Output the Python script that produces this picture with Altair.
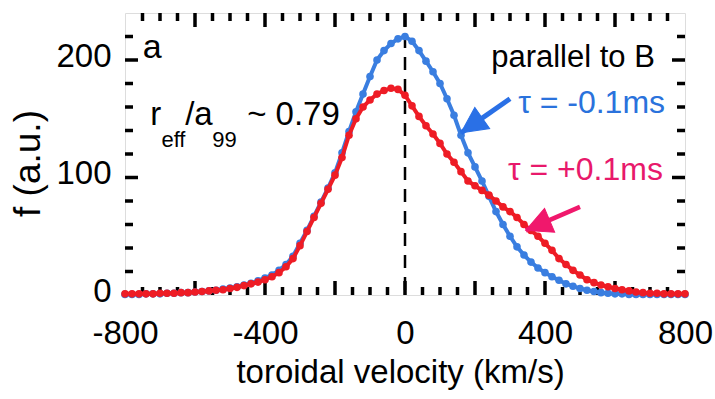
import altair as alt
import pandas as pd

# ---------------- data ----------------
velocity = list(range(-800, 801, 20))

f_minus = [0.5, 0.5, 0.5, 1, 1, 1, 1.5, 1.5, 2, 2,
           2.5, 3, 3.5, 4, 5, 6, 7, 8.5, 10, 12,
           14.5, 17, 21, 26, 33, 44, 55, 67, 79, 91,
           104, 121, 139, 156, 171, 186, 200, 208, 214, 218,
           220, 216, 208, 199, 190, 180, 167, 153, 136, 121,
           109, 97, 84, 71, 60, 50, 41, 34, 28, 23,
           19, 15.5, 12.5, 9.5, 7.5, 5.5, 4, 3, 2, 1.5,
           1, 1, 0.5, 0.5, 0.5, 0.5, 0.5, 0.5, 0.5, 0.5, 0.5]

f_plus = [1, 1, 1, 1, 1, 1.5, 1.5, 1.5, 2, 2,
          2.5, 3, 3.5, 4, 4.5, 5.5, 6.5, 8, 9.5, 11,
          13, 15.5, 19, 24, 31, 42, 54, 66, 78, 90,
          102, 117, 136, 150, 160, 166, 171, 174, 176, 175,
          170, 161, 152, 144, 137, 129, 120, 113, 105, 97,
          93, 89, 85, 80, 75, 71, 66, 60, 55, 50,
          44, 38, 31, 26, 21, 17, 13, 10.5, 8.5, 7,
          5.5, 4.5, 3.5, 2.5, 2, 1.5, 1.5, 1, 1, 1, 1]

assert len(velocity) == len(f_minus) == len(f_plus)

x_labels = [-800, -400, 0, 400, 800]
y_labels = [0, 100, 200]
x_major_ticks = [-600, -400, -200, 0, 200, 400, 600]
x_minor_ticks = [v for v in range(-750, 800, 50) if v % 200 != 0]
y_major_ticks = [100, 200]
y_minor_ticks = [20, 40, 60, 80, 120, 140, 160, 180, 220]

# ---------------- style ----------------
W, H = 560, 282
FONT = "Liberation Sans, Arial, sans-serif"
BLUE = "#3a7ee0"
RED = "#ee1c25"
PINK = "#e8196b"
BLUE_TXT = "#2a72dc"

xs = alt.Scale(domain=[-800, 800], nice=False, zero=False)
ys = alt.Scale(domain=[0, 240], nice=False, zero=False)

df = pd.DataFrame({"v": velocity + velocity,
                   "f": f_minus + f_plus,
                   "s": ["minus"] * len(velocity) + ["plus"] * len(velocity)})

xenc = alt.X("v:Q", scale=xs,
             axis=alt.Axis(values=x_labels, ticks=False, domain=False, grid=False,
                           labelExpr="'' + datum.value",
                           labelFontSize=33, labelFont=FONT, labelPadding=22,
                           labelColor="black", labelFlush=False,
                           title="toroidal velocity (km/s)", titleFont=FONT,
                           titleFontSize=33, titleFontWeight="normal",
                           titleColor="black", titlePadding=6, titleX=275))
yenc = alt.Y("f:Q", scale=ys,
             axis=alt.Axis(values=y_labels, ticks=False, domain=False, grid=False,
                           labelFontSize=33, labelFont=FONT, labelPadding=14,
                           labelColor="black", labelOffset=-4,
                           title="f (a.u.)", titleFont=FONT, titleFontSize=37,
                           titleFontWeight="normal", titleColor="black",
                           titleX=-78, titleY=150))

def curve(which, color):
    base = alt.Chart(df).transform_filter(alt.datum.s == which)
    line = base.mark_line(color=color, strokeWidth=4).encode(x=xenc, y=yenc)
    pts = base.mark_circle(color=color, size=58, opacity=1).encode(x="v:Q", y="f:Q")
    return line + pts

dash = alt.Chart(pd.DataFrame({"v": [0]})).mark_rule(
    color="black", strokeWidth=2.5, strokeDash=[13, 9]).encode(x="v:Q")

def tick_layer(vals, axis, side, length):
    d = pd.DataFrame({"t": vals})
    m = alt.Chart(d).mark_rule(color="black", strokeWidth=3.5)
    if axis == "x":
        if side == "bottom":
            return m.encode(x="t:Q", y=alt.value(H), y2=alt.value(H - length))
        return m.encode(x="t:Q", y=alt.value(0), y2=alt.value(length))
    if side == "left":
        return m.encode(y="t:Q", x=alt.value(0), x2=alt.value(length))
    return m.encode(y="t:Q", x=alt.value(W), x2=alt.value(W - length))

ticks = []
for side in ["bottom", "top"]:
    ticks.append(tick_layer(x_major_ticks, "x", side, 14))
    ticks.append(tick_layer(x_minor_ticks, "x", side, 8))
for side in ["left", "right"]:
    ticks.append(tick_layer(y_major_ticks, "y", side, 13))
    ticks.append(tick_layer(y_minor_ticks, "y", side, 8))

def label(txt, v, f, size, color="black", align="left"):
    return alt.Chart(pd.DataFrame({"t": [txt]})).mark_text(
        font=FONT, fontSize=size, color=color, align=align, baseline="alphabetic"
    ).encode(x=alt.datum(v), y=alt.datum(f), text="t:N")

labels = [
    label("a", -749, 202, 34),
    label("r", -728, 145, 33),
    label("eff", -696, 126, 22),
    label("/a", -628, 145, 33),
    label("99", -551, 126, 22),
    label("~ 0.79", -451, 145, 33),
    label("parallel to B", 714, 194, 31, align="right"),
    label("\u03c4 = -0.1ms", 743, 155, 32, color=BLUE_TXT, align="right"),
    label("\u03c4 = +0.1ms", 737, 98, 32, color=PINK, align="right"),
]

def arrow(tail, tip, angle, color, width):
    d = pd.DataFrame({"v": [tail[0], tip[0]], "f": [tail[1], tip[1]]})
    shaft = alt.Chart(d).mark_line(color=color, strokeWidth=width).encode(x="v:Q", y="f:Q")
    head = alt.Chart(pd.DataFrame({"v": [tip[0]], "f": [tip[1]]})).mark_point(
        shape="M0,0 L0.8,1.6 L-0.8,1.6 Z", filled=True, fill=color, stroke=color,
        strokeWidth=1, opacity=1, size=1050, angle=angle).encode(x="v:Q", y="f:Q")
    return shaft + head

arrows = [
    arrow((300, 167), (160, 138), 235, "#2a70e6", 5),
    arrow((500, 75), (345, 55), 247, "#f0186c", 4.5),
]

chart = alt.layer(
    dash, *ticks, curve("minus", BLUE), curve("plus", RED), *arrows, *labels
).properties(
    width=W, height=H,
    autosize=alt.AutoSizeParams(type="none"),
    padding={"left": 125, "top": 13, "right": 30, "bottom": 104},
).configure_view(
    stroke="black", strokeWidth=5
).configure(background="white")

chart.save("out.html", embed_options={"renderer": "svg", "actions": False})
